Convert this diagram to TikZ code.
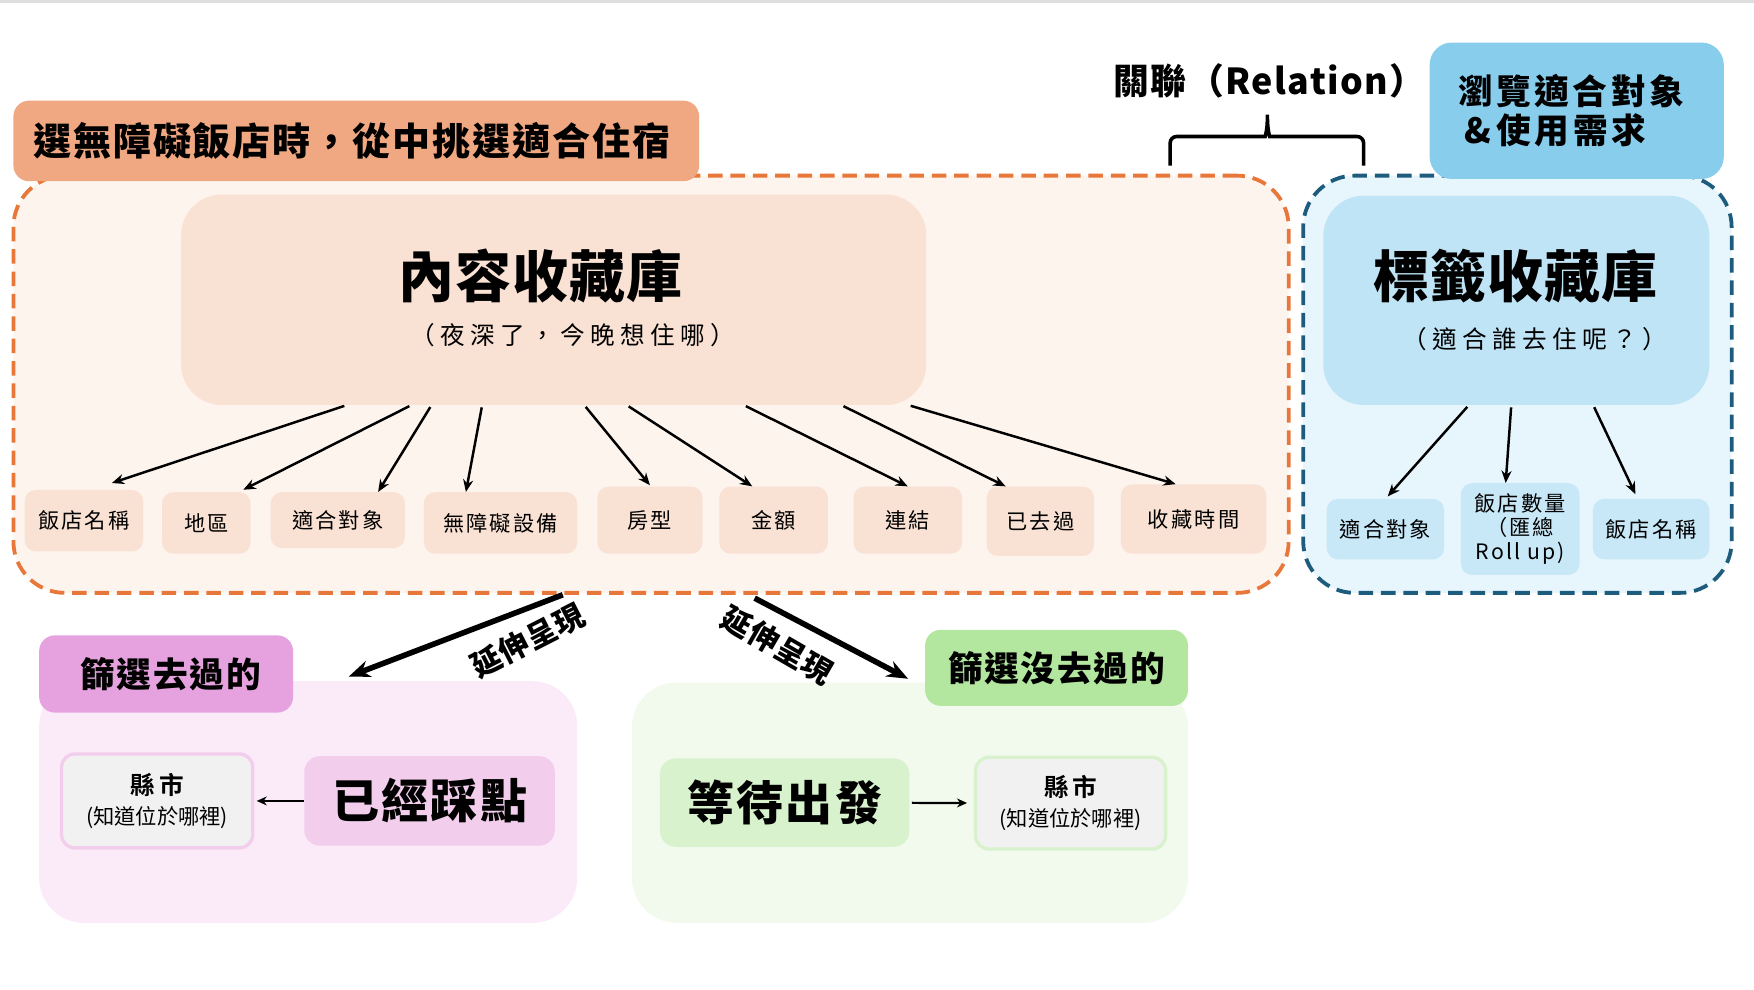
\documentclass[tikz,border=0pt]{standalone}
\usepackage{fontspec}
\newfontfamily\cjk{Noto Sans CJK TC}
\newfontfamily\cjkbf{Noto Sans CJK TC Bold}
\newfontfamily\cjkblk{Noto Sans CJK TC Black}
\usetikzlibrary{calc,arrows.meta}

\newcommand{\fsz}[2]{\fontsize{#1}{#2}\selectfont}
\newcommand{\ls}[1]{\addfontfeatures{LetterSpace=#1}}

\definecolor{orgtab}{HTML}{F0A882}
\definecolor{orgline}{HTML}{E8773A}
\definecolor{orgzone}{HTML}{FDF4EE}
\definecolor{peach}{HTML}{F9E1D4}
\definecolor{bluetab}{HTML}{88CDEB}
\definecolor{blueline}{HTML}{1E5C7E}
\definecolor{bluezone}{HTML}{E7F5FC}
\definecolor{bluecorefill}{HTML}{BFE4F6}
\definecolor{blueitem}{HTML}{C8E8F7}
\definecolor{pinktab}{HTML}{E5A2DE}
\definecolor{pinkzonefill}{HTML}{FBEBF8}
\definecolor{pinkboxfill}{HTML}{F2CEEC}
\definecolor{greentab}{HTML}{B3E69F}
\definecolor{greenzonefill}{HTML}{F2FAEE}
\definecolor{greenboxfill}{HTML}{D9F2CE}
\definecolor{citygray}{HTML}{F1F1F1}

\tikzset{
  zonebox/.style={rectangle, rounded corners=46pt, inner sep=0pt},
  dashzone/.style={zonebox, line width=3.4pt, dash pattern=on 13pt off 7pt},
  corebox/.style={rectangle, rounded corners=36pt, inner sep=0pt},
  tagbox/.style={rectangle, rounded corners=14pt, inner sep=0pt},
  itembox/.style={rectangle, rounded corners=10pt, inner sep=0pt, fill=peach,
    font={\cjk\fsz{19}{21.5}\ls{10}}},
  blueitembox/.style={itembox, fill=blueitem},
  citybox/.style={rectangle, rounded corners=12pt, inner sep=0pt, fill=citygray,
    line width=3pt, align=center, font={\cjk\fsz{19}{27}}},
  bigtitle/.style={font={\cjkblk\fsz{50}{55}\ls{2}}},
  subtitle/.style={font={\cjk\fsz{22}{26}\ls{22}}},
  tagtext/.style={font={\cjkblk\fsz{31}{35}\ls{5}}},
  stagetext/.style={font={\cjkblk\fsz{42}{46}\ls{5}}},
  thinarrow/.style={->, line width=2.2pt, shorten <=2pt},
  bigarrow/.style={-{Stealth[length=19pt,width=15pt]}, line width=5pt},
  smallarrow/.style={-{Stealth[length=9pt,width=8pt]}, line width=2pt}
}

\begin{document}
\begin{tikzpicture}[x=1pt,y=-1pt,>={Stealth[length=11pt,width=9pt]}]
  \useasboundingbox (0,0) rectangle (1568,885);
  % linea gris superior
  \fill[black!13] (0,0) rectangle (1568,2.5);

  % zonas punteadas
  \node[dashzone, draw=orgline, fill=orgzone, minimum width=1140pt, minimum height=373pt] (contentzone) at (582,343.5) {};
  \node[dashzone, draw=blueline, fill=bluezone, minimum width=383pt, minimum height=373pt] (tagzone) at (1356.5,343.5) {};

  % pestanas de titulo
  \node[tagbox, fill=orgtab, minimum width=613pt, minimum height=72pt, font={\cjkblk\fsz{34}{38}\ls{5}}] (picktab) at (318.5,126) {\hspace*{-8pt}選無障礙飯店時，從中挑選適合住宿};
  \node[tagbox, rounded corners=20pt, fill=bluetab, minimum width=263pt, minimum height=122pt, align=left, font={\cjkblk\fsz{31}{35}\ls{10}}] (browsetab) at (1409.5,99) {\hspace*{-10pt}瀏覽適合對象\\\hspace*{-10pt}\,\&\,使用需求};

  % bibliotecas
  \node[corebox, fill=peach, minimum width=666pt, minimum height=188pt] (content) at (495,268) {};
  \node[bigtitle] (contenttitle) at (483,247) {內容收藏庫};
  \node[subtitle] (contentsub) at (512,300) {（夜深了，今晚想住哪）};
  \node[corebox, fill=bluecorefill, minimum width=345pt, minimum height=187pt] (tagcore) at (1355.5,268.5) {};
  \node[bigtitle] (tagtitle) at (1355,247) {標籤收藏庫};
  \node[subtitle] (tagsub) at (1372,303) {（適合誰去住呢？）};

  % campos del contenido
  \node[itembox, minimum width=106pt, minimum height=55pt] (hotel) at (75,465.5) {飯店名稱};
  \node[itembox, minimum width=79pt, minimum height=55pt] (area) at (184.5,467.5) {地區};
  \node[itembox, minimum width=120pt, minimum height=50pt] (target) at (302,465) {適合對象};
  \node[itembox, minimum width=137pt, minimum height=55pt] (facility) at (447.5,467.5) {無障礙設備};
  \node[itembox, minimum width=94pt, minimum height=60pt] (room) at (581,465) {房型};
  \node[itembox, minimum width=97pt, minimum height=60pt] (price) at (691.5,465) {金額};
  \node[itembox, minimum width=97pt, minimum height=60pt] (link) at (811.5,465) {連結};
  \node[itembox, minimum width=96pt, minimum height=62pt] (visitedflag) at (930,466) {已去過};
  \node[itembox, minimum width=130pt, minimum height=62pt] (savedtime) at (1067,464) {收藏時間};

  \draw[thinarrow] ($(content.south west)!.222!(content.south east)$) -- ($(hotel.north)+(25,-6)$);
  \draw[thinarrow] ($(content.south west)!.309!(content.south east)$) -- ($(area.north)+(33,-2)$);
  \draw[thinarrow] ($(content.south west)!.336!(content.south east)$) -- ($(target.north)+(36,0)$);
  \draw[thinarrow] ($(content.south west)!.404!(content.south east)$) -- ($(facility.north)+(-31,0)$);
  \draw[thinarrow] ($(content.south west)!.541!(content.south east)$) -- ($(room.north)+(0,-1)$);
  \draw[thinarrow] ($(content.south west)!.598!(content.south east)$) -- ($(price.north)+(-19,0)$);
  \draw[thinarrow] ($(content.south west)!.755!(content.south east)$) -- (link.north);
  \draw[thinarrow] ($(content.south west)!.886!(content.south east)$) -- ($(visitedflag.north)+(-31,0)$);
  \draw[thinarrow] ($(content.south west)!.976!(content.south east)$) -- ($(savedtime.north)+(-16,0)$);

  % campos de etiquetas
  \node[blueitembox, minimum width=105pt, minimum height=54pt] (btarget) at (1238.5,473) {適合對象};
  \node[blueitembox, minimum width=106pt, minimum height=82pt, align=center] (bcount) at (1359,473) {飯店數量\\（匯總\\Roll up)};
  \node[blueitembox, minimum width=104pt, minimum height=54pt] (bname) at (1476,473) {飯店名稱};

  \draw[thinarrow] ($(tagcore.south west)!.377!(tagcore.south east)$) -- ($(btarget.north)+(2,-2)$);
  \draw[thinarrow] ($(tagcore.south west)!.487!(tagcore.south east)$) -- ($(bcount.north)+(-13,0)$);
  \draw[thinarrow] ($(tagcore.south west)!.699!(tagcore.south east)$) -- ($(bname.north)+(-14,-4)$);

  % relacion
  \node[font={\cjkblk\fsz{32}{36}\ls{4}}] (relation) at (1135,72) {關聯（Relation）};
  \draw[line width=3.2pt, rounded corners=6pt] (1046,148) |- (1125,122)
    .. controls (1131,122) and (1133,116) .. (1133,99)
    .. controls (1133,116) and (1135,122) .. (1141,122) -| (1219,148);

  % filtro: visitados
  \node[zonebox, rounded corners=40pt, fill=pinkzonefill, minimum width=481pt, minimum height=216pt] (pinkarea) at (275.5,717) {};
  \node[tagbox, fill=pinktab, minimum width=227pt, minimum height=69pt, tagtext] (pinktag) at (148.5,602.5) {\hspace*{8pt}篩選去過的};
  \node[tagbox, fill=pinkboxfill, minimum width=224pt, minimum height=80pt, stagetext] (visited) at (384,716) {已經踩點};
  \node[citybox, draw=pinkboxfill, minimum width=171pt, minimum height=84pt] (cityvisited) at (140.5,716) {{\cjkbf\fsz{22}{27}\ls{15}縣市}\\(知道位於哪裡)};
  \draw[smallarrow, shorten >=2pt] (visited) -- (cityvisited);

  % filtro: no visitados
  \node[zonebox, rounded corners=40pt, fill=greenzonefill, minimum width=497pt, minimum height=215pt] (greenarea) at (813.5,717.5) {};
  \node[tagbox, fill=greentab, minimum width=235pt, minimum height=68pt, tagtext] (greentag) at (944.5,597) {篩選沒去過的};
  \node[tagbox, fill=greenboxfill, minimum width=223pt, minimum height=79pt, stagetext] (waiting) at (701.5,717.5) {等待出發};
  \node[citybox, draw=greenboxfill, minimum width=170pt, minimum height=82pt] (cityplan) at (957,718) {{\cjkbf\fsz{22}{27}\ls{15}縣市}\\(知道位於哪裡)};
  \draw[smallarrow, shorten <=2pt, shorten >=6pt] (waiting) -- (cityplan);

  % flechas principales
  \draw[bigarrow] ($(contentzone.south west)!.431!(contentzone.south east)$) -- ($(pinkarea.north west)+(277,-4)$);
  \draw[bigarrow] ($(contentzone.south west)!.581!(contentzone.south east)+(0,3)$) -- ($(greenarea.north west)+(247,-3)$);
  \node[font={\cjkblk\fsz{27}{30}\ls{2}}, rotate=27] (extendleft) at (472,573) {延伸呈現};
  \node[font={\cjkblk\fsz{27}{30}\ls{2}}, rotate=-30] (extendright) at (695,577) {延伸呈現};
\end{tikzpicture}
\end{document}
